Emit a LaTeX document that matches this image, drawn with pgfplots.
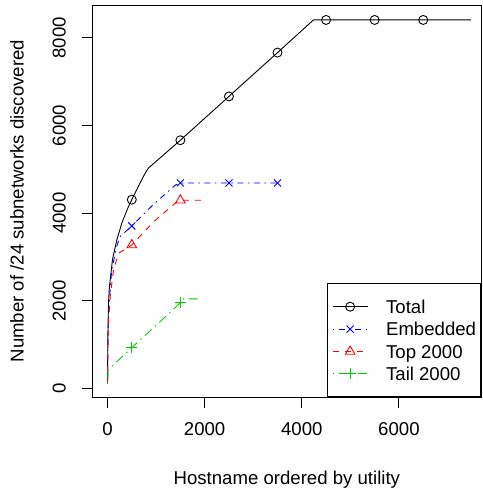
\documentclass[border=0pt]{standalone}
\usepackage{fontspec}
\setmainfont{Liberation Sans}
\usepackage{pgfplots}
\pgfplotsset{compat=1.18}
\definecolor{rgreen}{RGB}{0,205,0}
\pgfplotsset{
  lgd/.style n args={3}{legend image code/.code={%
    \draw[#1, #3] (0bp,0bp)--(35bp,0bp);
    \draw[#1, solid] plot[mark=#2] coordinates {(17.5bp,0bp)};}}
}
\begin{document}
\fontsize{18.6bp}{22bp}\selectfont
\begin{tikzpicture}
\begin{axis}[
  scale only axis, width=388.3bp, height=392.3bp,
  xmin=-305, xmax=7690, ymin=-205, ymax=8746,
  axis line style={line width=0.9bp},
  xtick={0,2000,4000,6000}, ytick={0,2000,4000,6000,8000},
  tick align=outside, major tick length=11bp,
  tick style={black, line width=0.9bp},
  xtick pos=left, ytick pos=left,
  scaled ticks=false,
  /pgf/number format/1000 sep={},
  /pgf/number format/assume math mode=true,
  xticklabel shift=14bp, yticklabel shift=16bp,
  xticklabel style={anchor=north, inner sep=0pt, text height=13.3bp, text depth=0pt},
  yticklabel style={rotate=90, anchor=south, inner sep=0pt, text height=13.3bp, text depth=0pt},
  xlabel={Hostname ordered by utility},
  ylabel={Number of /24 subnetworks discovered},
  xlabel style={at={(axis description cs:0.5,-0.2218)}, anchor=base, inner sep=0pt},
  ylabel style={at={(axis description cs:-0.1777,0.5)}, anchor=base, inner sep=0pt},
  legend cell align=left,
  legend style={at={(1,0)}, anchor=south east, draw=black, line width=0.9bp,
    inner xsep=4.5bp, inner ysep=16.3bp, row sep=9.1bp, column sep=18bp,
    nodes={inner sep=0pt, text height=13.3bp, text depth=0pt}},
]
% Total
\addplot[black, line width=0.9bp, forget plot] coordinates {
 (0,100) (5,900) (10,1400) (21,1950) (35,2250) (56,2480) (103,2940) (193,3390)
 (296,3775) (432,4150) (500,4305) (650,4640) (776,4910) (844,5027)
 (1500,5660) (2500,6660) (3500,7660) (4240,8405) (7480,8405)};
\addplot[black, only marks, mark=o, mark size=4.5bp, line width=0.9bp,
  lgd={black}{o}{solid}] coordinates {
 (500,4305) (1500,5660) (2500,6660) (3500,7660) (4500,8405) (5500,8405) (6500,8405)};
\addlegendentry{Total}
% Embedded
\addplot[blue, line width=0.9bp, dash pattern=on 1.5bp off 4.5bp on 6bp off 4.5bp, forget plot] coordinates {
 (0,100) (6,900) (15,1500) (35,1955) (86,2700) (189,3231) (257,3460) (500,3705)
 (950,4200) (1400,4640) (1500,4685) (3500,4685)};
\addplot[blue, only marks, mark=x, mark size=5bp, line width=0.9bp,
  lgd={blue}{x}{dash pattern=on 1.5bp off 4.5bp on 6bp off 4.5bp}] coordinates {
 (500,3705) (1500,4685) (2500,4685) (3500,4685)};
\addlegendentry{Embedded}
% Top 2000
\addplot[red, line width=0.9bp, dash pattern=on 6bp off 6bp, forget plot] coordinates {
 (0,100) (8,900) (20,1500) (56,2100) (123,2700) (227,3080) (500,3270)
 (950,3800) (1400,4230) (1500,4290) (1960,4290)};
\addplot[red, only marks, mark=triangle, mark size=5.5bp, line width=0.9bp,
  lgd={red}{triangle}{dash pattern=on 6bp off 6bp}] coordinates {
 (500,3270) (1500,4290)};
\addlegendentry{Top 2000}
% Tail 2000
\addplot[rgreen, line width=0.9bp, dash pattern=on 1.5bp off 4.5bp on 9bp off 4.5bp, forget plot] coordinates {
 (0,100) (10,420) (500,927) (1500,1950) (1560,2040) (1910,2040)};
\addplot[rgreen, only marks, mark=+, mark size=5.5bp, line width=0.9bp,
  lgd={rgreen}{+}{dash pattern=on 1.5bp off 4.5bp on 9bp off 4.5bp}] coordinates {
 (500,927) (1500,1950)};
\addlegendentry{Tail 2000}
\end{axis}
\pgfresetboundingbox
\useasboundingbox ([shift={(-92.7bp,-91.7bp)}]current axis.south west) rectangle ([shift={(1bp,5bp)}]current axis.north east);
\end{tikzpicture}
\end{document}
